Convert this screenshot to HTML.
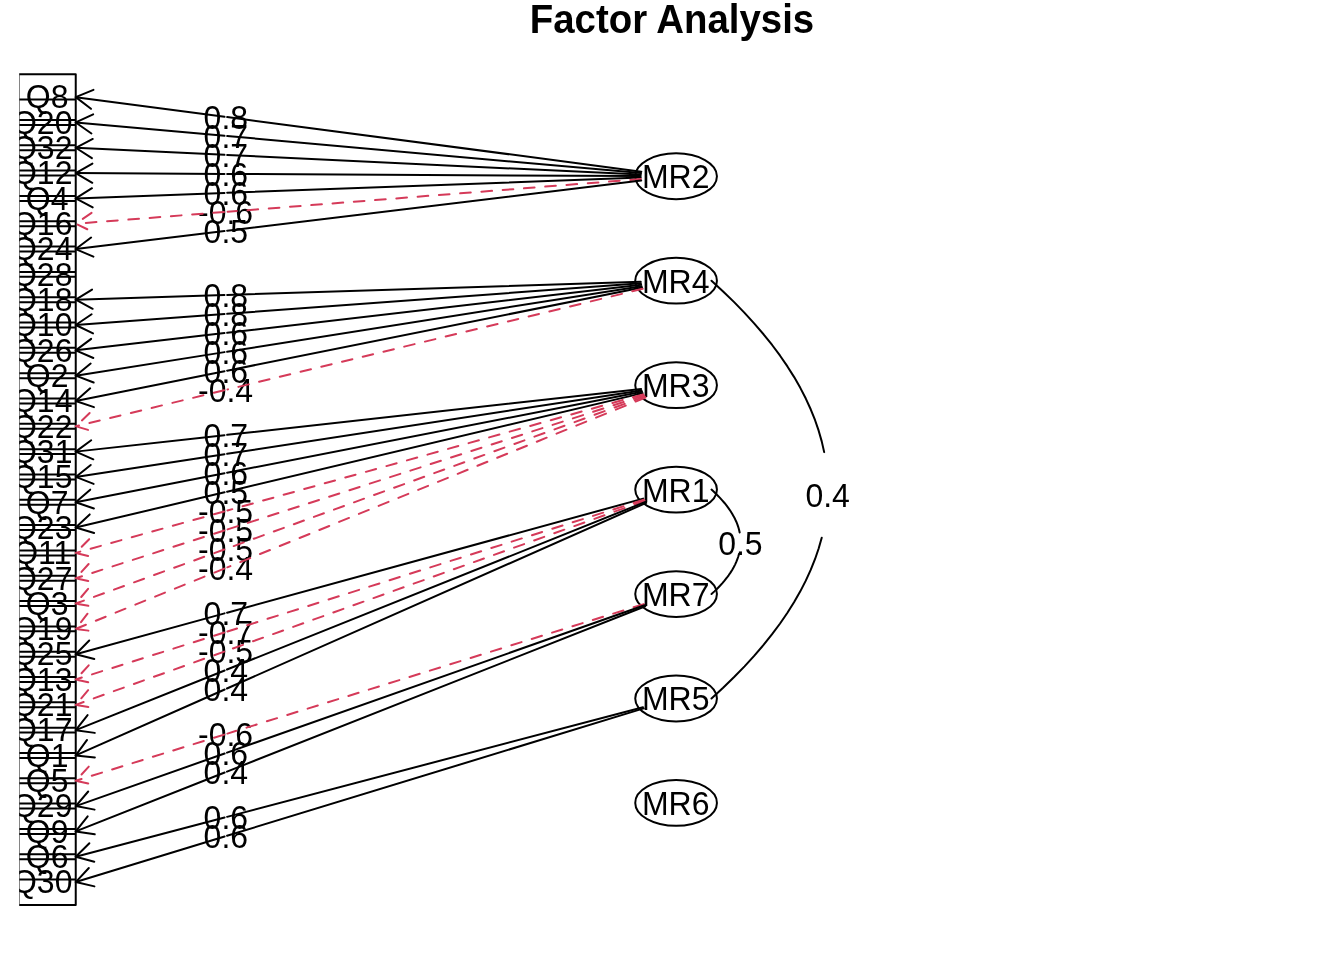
<!DOCTYPE html>
<html lang="en">
<head>
<meta charset="utf-8">
<title>Factor Analysis</title>
<style>
html,body{margin:0;padding:0;background:#fff;}
body{width:1344px;height:960px;overflow:hidden;}
svg{display:block;}
text{font-family:"Liberation Sans",Arial,Helvetica,sans-serif;font-size:32px;fill:#000;text-anchor:middle;}
.k{fill:none;stroke:#000;stroke-width:2;stroke-linecap:round;stroke-linejoin:round;}
.r{fill:none;stroke:#D53A59;stroke-width:2;stroke-linecap:round;stroke-linejoin:round;stroke-dasharray:10.667 10.667;}
.t{font-weight:bold;font-size:38.4px;}
</style>
</head>
<body>
<svg width="1344" height="960" viewBox="0 0 1344 960">
<defs><clipPath id="plot"><rect x="19.2" y="38.4" width="1305.6" height="902.4"/></clipPath></defs>
<rect width="1344" height="960" fill="#fff"/>
<text class="t" transform="translate(672 33) scale(1 1.04)">Factor Analysis</text>
<g clip-path="url(#plot)">
<path class="k" d="M18.6 74.3H75.74V119.98H18.6ZM18.6 99.62H75.74V145.3H18.6ZM18.6 124.94H75.74V170.62H18.6ZM18.6 150.26H75.74V195.94H18.6ZM18.6 175.58H75.74V221.26H18.6ZM18.6 200.9H75.74V246.58H18.6ZM18.6 226.22H75.74V271.9H18.6ZM18.6 251.54H75.74V297.22H18.6ZM18.6 276.86H75.74V322.54H18.6ZM18.6 302.18H75.74V347.86H18.6ZM18.6 327.5H75.74V373.18H18.6ZM18.6 352.82H75.74V398.5H18.6ZM18.6 378.14H75.74V423.82H18.6ZM18.6 403.46H75.74V449.14H18.6ZM18.6 428.78H75.74V474.46H18.6ZM18.6 454.1H75.74V499.78H18.6ZM18.6 479.42H75.74V525.1H18.6ZM18.6 504.74H75.74V550.42H18.6ZM18.6 530.06H75.74V575.74H18.6ZM18.6 555.38H75.74V601.06H18.6ZM18.6 580.7H75.74V626.38H18.6ZM18.6 606.02H75.74V651.7H18.6ZM18.6 631.34H75.74V677.02H18.6ZM18.6 656.66H75.74V702.34H18.6ZM18.6 681.98H75.74V727.66H18.6ZM18.6 707.3H75.74V752.98H18.6ZM18.6 732.62H75.74V778.3H18.6ZM18.6 757.94H75.74V803.62H18.6ZM18.6 783.26H75.74V828.94H18.6ZM18.6 808.58H75.74V854.26H18.6ZM18.6 833.9H75.74V879.58H18.6ZM18.6 859.22H75.74V904.9H18.6Z"/>
<text transform="translate(47.1 108) scale(1 1.04)">Q8</text>
<text transform="translate(42.2 134) scale(1 1.04)">Q20</text>
<text transform="translate(42.2 159) scale(1 1.04)">Q32</text>
<text transform="translate(42.2 184) scale(1 1.04)">Q12</text>
<text transform="translate(47.1 210) scale(1 1.04)">Q4</text>
<text transform="translate(42.2 235) scale(1 1.04)">Q16</text>
<text transform="translate(42.2 260) scale(1 1.04)">Q24</text>
<text transform="translate(42.2 286) scale(1 1.04)">Q28</text>
<text transform="translate(42.2 311) scale(1 1.04)">Q18</text>
<text transform="translate(42.2 336) scale(1 1.04)">Q10</text>
<text transform="translate(42.2 362) scale(1 1.04)">Q26</text>
<text transform="translate(47.1 387) scale(1 1.04)">Q2</text>
<text transform="translate(42.2 412) scale(1 1.04)">Q14</text>
<text transform="translate(42.2 438) scale(1 1.04)">Q22</text>
<text transform="translate(42.2 463) scale(1 1.04)">Q31</text>
<text transform="translate(42.2 488) scale(1 1.04)">Q15</text>
<text transform="translate(47.1 514) scale(1 1.04)">Q7</text>
<text transform="translate(42.2 539) scale(1 1.04)">Q23</text>
<text transform="translate(42.2 564) scale(1 1.04)">Q11</text>
<text transform="translate(42.2 590) scale(1 1.04)">Q27</text>
<text transform="translate(47.1 615) scale(1 1.04)">Q3</text>
<text transform="translate(42.2 640) scale(1 1.04)">Q19</text>
<text transform="translate(42.2 665) scale(1 1.04)">Q25</text>
<text transform="translate(42.2 691) scale(1 1.04)">Q13</text>
<text transform="translate(42.2 716) scale(1 1.04)">Q21</text>
<text transform="translate(42.2 741) scale(1 1.04)">Q17</text>
<text transform="translate(47.1 767) scale(1 1.04)">Q1</text>
<text transform="translate(47.1 792) scale(1 1.04)">Q5</text>
<text transform="translate(42.2 817) scale(1 1.04)">Q29</text>
<text transform="translate(47.1 843) scale(1 1.04)">Q9</text>
<text transform="translate(47.1 868) scale(1 1.04)">Q6</text>
<text transform="translate(42.2 893) scale(1 1.04)">Q30</text>
<ellipse class="k" cx="676.09" cy="176.27" rx="40.85" ry="22.9"/>
<text transform="translate(675.69 188) scale(1 1.04)">MR2</text>
<ellipse class="k" cx="676.09" cy="280.71" rx="40.85" ry="22.9"/>
<text transform="translate(675.69 293) scale(1 1.04)">MR4</text>
<ellipse class="k" cx="676.09" cy="385.16" rx="40.85" ry="22.9"/>
<text transform="translate(675.69 397) scale(1 1.04)">MR3</text>
<ellipse class="k" cx="676.09" cy="489.6" rx="40.85" ry="22.9"/>
<text transform="translate(675.69 502) scale(1 1.04)">MR1</text>
<ellipse class="k" cx="676.09" cy="594.05" rx="40.85" ry="22.9"/>
<text transform="translate(675.69 606) scale(1 1.04)">MR7</text>
<ellipse class="k" cx="676.09" cy="698.49" rx="40.85" ry="22.9"/>
<text transform="translate(675.69 710) scale(1 1.04)">MR5</text>
<ellipse class="k" cx="676.09" cy="802.94" rx="40.85" ry="22.9"/>
<text transform="translate(675.69 815) scale(1 1.04)">MR6</text>
<text transform="translate(225.83 129) scale(1 1.04)">0.8</text>
<path class="k" d="M641.31 171.68L227.15 117.1"/>
<path class="k" d="M224.51 116.75L75.74 97.14"/>
<path class="k" d="M93.48 89.8L75.74 97.14L90.97 108.83"/>
<text transform="translate(225.83 148) scale(1 1.04)">0.7</text>
<path class="k" d="M640.98 173.12L227.16 136.03"/>
<path class="k" d="M224.49 135.79L75.74 122.46"/>
<path class="k" d="M93.16 114.38L75.74 122.46L91.44 133.51"/>
<text transform="translate(225.83 167) scale(1 1.04)">0.7</text>
<path class="k" d="M640.77 174.59L227.17 154.97"/>
<path class="k" d="M224.48 154.84L75.74 147.78"/>
<path class="k" d="M92.8 138.98L75.74 147.78L91.89 158.16"/>
<text transform="translate(225.83 186) scale(1 1.04)">0.6</text>
<path class="k" d="M640.69 176.08L227.17 173.9"/>
<path class="k" d="M224.48 173.89L75.74 173.1"/>
<path class="k" d="M92.42 163.59L75.74 173.1L92.32 182.79"/>
<text transform="translate(225.83 205) scale(1 1.04)">0.6</text>
<path class="k" d="M640.74 177.57L227.17 192.83"/>
<path class="k" d="M224.48 192.93L75.74 198.42"/>
<path class="k" d="M92 188.22L75.74 198.42L92.71 207.4"/>
<text transform="translate(225.53 224) scale(1 1.04)">-0.6</text>
<path class="r" d="M640.92 179.05L227.6 211.73"/>
<path class="r" d="M224.06 212.01L75.74 223.74"/>
<path class="r" d="M91.56 212.86L75.74 223.74L93.07 232"/>
<text transform="translate(225.83 243) scale(1 1.04)">0.5</text>
<path class="k" d="M641.22 180.5L227.15 230.7"/>
<path class="k" d="M224.5 231.02L75.74 249.06"/>
<path class="k" d="M91.09 237.53L75.74 249.06L93.4 256.59"/>
<text transform="translate(225.83 307) scale(1 1.04)">0.8</text>
<path class="k" d="M640.73 281.83L227.17 294.91"/>
<path class="k" d="M224.48 295L75.74 299.7"/>
<path class="k" d="M92.06 289.58L75.74 299.7L92.66 308.77"/>
<text transform="translate(225.83 326) scale(1 1.04)">0.8</text>
<path class="k" d="M640.89 283.31L227.17 313.85"/>
<path class="k" d="M224.49 314.04L75.74 325.02"/>
<path class="k" d="M91.62 314.22L75.74 325.02L93.03 333.37"/>
<text transform="translate(225.83 345) scale(1 1.04)">0.6</text>
<path class="k" d="M641.17 284.76L227.16 332.78"/>
<path class="k" d="M224.5 333.09L75.74 350.34"/>
<path class="k" d="M91.15 338.89L75.74 350.34L93.36 357.96"/>
<text transform="translate(225.83 364) scale(1 1.04)">0.6</text>
<path class="k" d="M641.57 286.17L227.14 351.72"/>
<path class="k" d="M224.52 352.13L75.74 375.66"/>
<path class="k" d="M90.66 363.58L75.74 375.66L93.66 382.55"/>
<text transform="translate(225.83 383) scale(1 1.04)">0.6</text>
<path class="k" d="M642.07 287.53L227.12 370.66"/>
<path class="k" d="M224.53 371.17L75.74 400.98"/>
<path class="k" d="M90.16 388.3L75.74 400.98L93.93 407.13"/>
<text transform="translate(225.53 402) scale(1 1.04)">-0.4</text>
<path class="r" d="M642.66 288.82L227.51 389.5"/>
<path class="r" d="M224.14 390.31L75.74 426.3"/>
<path class="r" d="M89.64 413.05L75.74 426.3L94.16 431.71"/>
<text transform="translate(225.83 447) scale(1 1.04)">0.7</text>
<path class="k" d="M641.13 389.03L227.16 434.86"/>
<path class="k" d="M224.5 435.15L75.74 451.62"/>
<path class="k" d="M91.21 440.25L75.74 451.62L93.32 459.33"/>
<text transform="translate(225.83 466) scale(1 1.04)">0.7</text>
<path class="k" d="M641.51 390.44L227.14 453.8"/>
<path class="k" d="M224.51 454.2L75.74 476.94"/>
<path class="k" d="M90.73 464.94L75.74 476.94L93.63 483.92"/>
<text transform="translate(225.83 485) scale(1 1.04)">0.6</text>
<path class="k" d="M642 391.81L227.12 472.73"/>
<path class="k" d="M224.53 473.24L75.74 502.26"/>
<path class="k" d="M90.22 489.66L75.74 502.26L93.9 508.5"/>
<text transform="translate(225.83 504) scale(1 1.04)">0.5</text>
<path class="k" d="M642.58 393.11L227.1 491.67"/>
<path class="k" d="M224.55 492.28L75.74 527.58"/>
<path class="k" d="M89.7 514.4L75.74 527.58L94.13 533.08"/>
<text transform="translate(225.53 523) scale(1 1.04)">-0.5</text>
<path class="r" d="M643.24 394.34L227.48 510.5"/>
<path class="r" d="M224.17 511.43L75.74 552.9"/>
<path class="r" d="M89.17 539.18L75.74 552.9L94.34 557.67"/>
<text transform="translate(225.53 542) scale(1 1.04)">-0.5</text>
<path class="r" d="M643.96 395.49L227.45 529.44"/>
<path class="r" d="M224.21 530.48L75.74 578.22"/>
<path class="r" d="M88.63 563.99L75.74 578.22L94.51 582.27"/>
<text transform="translate(225.53 561) scale(1 1.04)">-0.5</text>
<path class="r" d="M644.72 396.57L227.41 548.37"/>
<path class="r" d="M224.25 549.52L75.74 603.54"/>
<path class="r" d="M88.08 588.84L75.74 603.54L94.65 606.88"/>
<text transform="translate(225.53 580) scale(1 1.04)">-0.4</text>
<path class="r" d="M645.51 397.57L227.37 567.31"/>
<path class="r" d="M224.29 568.56L75.74 628.86"/>
<path class="r" d="M87.54 613.71L75.74 628.86L94.76 631.5"/>
<text transform="translate(225.83 625) scale(1 1.04)">0.7</text>
<path class="k" d="M643.15 498.63L227.08 612.69"/>
<path class="k" d="M224.58 613.38L75.74 654.18"/>
<path class="k" d="M89.24 640.53L75.74 654.18L94.31 659.04"/>
<text transform="translate(225.53 644) scale(1 1.04)">-0.7</text>
<path class="r" d="M643.86 499.8L227.45 631.51"/>
<path class="r" d="M224.21 632.54L75.74 679.5"/>
<path class="r" d="M88.7 665.33L75.74 679.5L94.49 683.64"/>
<text transform="translate(225.53 663) scale(1 1.04)">-0.5</text>
<path class="r" d="M644.62 500.88L227.41 650.45"/>
<path class="r" d="M224.24 651.59L75.74 704.82"/>
<path class="r" d="M88.15 690.17L75.74 704.82L94.63 708.25"/>
<text transform="translate(225.83 682) scale(1 1.04)">0.4</text>
<path class="k" d="M645.41 501.9L226.99 669.54"/>
<path class="k" d="M224.66 670.47L75.74 730.14"/>
<path class="k" d="M87.6 715.05L75.74 730.14L94.75 732.87"/>
<text transform="translate(225.83 701) scale(1 1.04)">0.4</text>
<path class="k" d="M646.22 502.83L226.96 688.49"/>
<path class="k" d="M224.69 689.5L75.74 755.46"/>
<path class="k" d="M87.06 739.95L75.74 755.46L94.83 757.51"/>
<text transform="translate(225.53 746) scale(1 1.04)">-0.6</text>
<path class="r" d="M643.77 604.1L227.46 733.59"/>
<path class="r" d="M224.2 734.6L75.74 780.78"/>
<path class="r" d="M88.77 766.68L75.74 780.78L94.47 785.01"/>
<text transform="translate(225.83 765) scale(1 1.04)">0.6</text>
<path class="k" d="M644.52 605.2L227.03 752.66"/>
<path class="k" d="M224.63 753.51L75.74 806.1"/>
<path class="k" d="M88.22 791.51L75.74 806.1L94.62 809.62"/>
<text transform="translate(225.83 784) scale(1 1.04)">0.4</text>
<path class="k" d="M645.31 606.22L227 771.62"/>
<path class="k" d="M224.66 772.54L75.74 831.42"/>
<path class="k" d="M87.67 816.38L75.74 831.42L94.73 834.24"/>
<text transform="translate(225.83 829) scale(1 1.04)">0.6</text>
<path class="k" d="M642.99 707.22L227.09 816.85"/>
<path class="k" d="M224.57 817.51L75.74 856.74"/>
<path class="k" d="M89.37 843.22L75.74 856.74L94.27 861.79"/>
<text transform="translate(225.83 848) scale(1 1.04)">0.6</text>
<path class="k" d="M643.68 708.4L227.06 835.79"/>
<path class="k" d="M224.6 836.55L75.74 882.06"/>
<path class="k" d="M88.83 868.02L75.74 882.06L94.45 886.38"/>
<path class="k" d="M711.5 594.05L714.4 591.37L717.16 588.69L719.76 586.01L722.21 583.34L724.51 580.66L726.65 577.98L728.64 575.3L730.48 572.62L732.16 569.94L733.69 567.27L735.07 564.59L736.3 561.91L737.37 559.23L738.29 556.55L739.05 553.88"/>
<path class="k" d="M739.67 532.45L739.05 529.77L738.29 527.1L737.37 524.42L736.3 521.74L735.07 519.06L733.69 516.38L732.16 513.71L730.48 511.03L728.64 508.35L726.65 505.67L724.51 502.99L722.21 500.31L719.76 497.64L717.16 494.96L714.4 492.28L711.5 489.6"/>
<text transform="translate(740.38 555) scale(1 1.04)">0.5</text>
<path class="k" d="M711.5 698.49L723.13 687.78L734.15 677.07L744.56 666.36L754.36 655.64L763.55 644.93L772.12 634.22L780.08 623.51L787.43 612.79L794.17 602.08L800.29 591.37L805.8 580.66L810.7 569.94L814.99 559.23L818.66 548.52L821.73 537.81"/>
<path class="k" d="M824.18 452.11L821.73 441.4L818.66 430.68L814.99 419.97L810.7 409.26L805.8 398.55L800.29 387.84L794.17 377.12L787.43 366.41L780.08 355.7L772.12 344.99L763.55 334.27L754.36 323.56L744.56 312.85L734.15 302.14L723.13 291.42L711.5 280.71"/>
<text transform="translate(827.65 507) scale(1 1.04)">0.4</text>
</g>
</svg>
</body>
</html>
